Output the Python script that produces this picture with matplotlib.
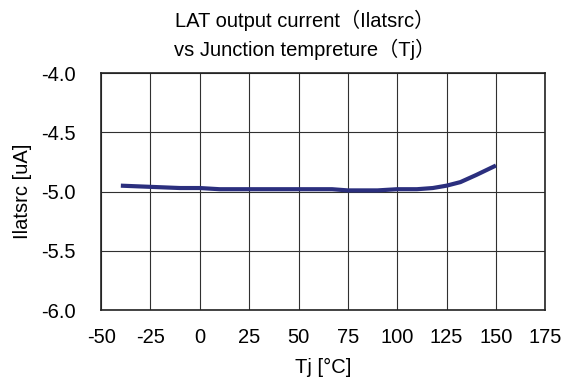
import matplotlib.pyplot as plt

# Data
tj = [-40, -25, -10, 0, 10, 25, 50, 67, 75, 90, 100, 110, 118, 125, 132, 140, 150]
ilatsrc = [-4.95, -4.96, -4.97, -4.97, -4.98, -4.98, -4.98, -4.98, -4.99, -4.99, -4.98, -4.98, -4.97, -4.95, -4.92, -4.86, -4.78]

x_ticks = [-50, -25, 0, 25, 50, 75, 100, 125, 150, 175]
y_ticks = [-4.0, -4.5, -5.0, -5.5, -6.0]

plt.rcParams['font.family'] = ['Liberation Sans', 'Noto Sans CJK JP', 'DejaVu Sans']
plt.rcParams['axes.unicode_minus'] = False

fig = plt.figure(figsize=(5.68, 3.79), dpi=100)
ax = fig.add_axes([0.178, 0.182, 0.782, 0.625])

ax.plot(tj, ilatsrc, color='#2b2f7e', linewidth=3, solid_capstyle='butt')

ax.set_xlim(-50, 175)
ax.set_ylim(-6.0, -4.0)
ax.set_xticks(x_ticks)
ax.set_yticks(y_ticks)
ax.set_yticklabels([f'{v:.1f}' for v in y_ticks])
ax.tick_params(axis='x', length=0, labelsize=14.5, pad=13)
ax.tick_params(axis='y', length=0, labelsize=14.5, pad=43)
for lbl in ax.get_yticklabels():
    lbl.set_horizontalalignment('left')
ax.grid(True, color='#303030', linewidth=0.8)
for s in ax.spines.values():
    s.set_color('#222222')
    s.set_linewidth(1.2)

fig.text(0.537, 0.975, 'LAT output current\uff08Ilatsrc\uff09\nvs Junction tempreture\uff08Tj\uff09',
         fontsize=14.5, ha='center', va='top', linespacing=1.45)
ax.set_xlabel('Tj [°C]', fontsize=14.5, labelpad=8)
ax.set_ylabel('Ilatsrc [uA]', fontsize=14.5, labelpad=7)

fig.savefig('out.png', dpi=100)
